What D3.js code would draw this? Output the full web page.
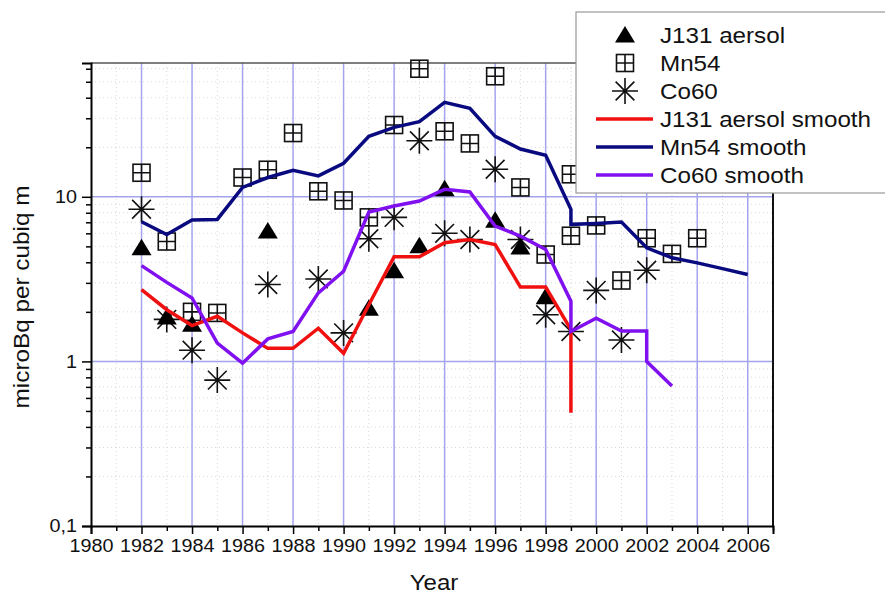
<!DOCTYPE html>
<html><head><meta charset="utf-8">
<script src="https://cdn.jsdelivr.net/npm/d3@7"></script>
<style>html,body{margin:0;padding:0;background:#fff;}svg{display:block;font-family:"Liberation Sans",Arial,sans-serif;}</style>
</head><body>
<svg id="chart" width="885" height="594"></svg>
<script>
// ---- data ----
const j131Years = [1982,1983,1984,1987,1991,1992,1993,1994,1996,1997,1998];
const j131Vals  = [4.9,1.86,1.68,6.2,2.1,3.55,5.05,11.2,7.2,4.95,2.47];

const mn54Years = [1982,1983,1984,1985,1986,1987,1988,1989,1990,1991,1992,1993,1994,1995,1996,1997,1998,1999,1999,2000,2001,2002,2003,2004];
const mn54Vals  = [14.0,5.35,2.0,1.97,13.1,14.6,24.4,10.8,9.5,7.5,27.3,60,25.0,21.1,54,11.4,4.46,13.7,5.8,6.7,3.1,5.6,4.5,5.6];

const co60Years = [1982,1983,1984,1985,1987,1989,1990,1991,1992,1993,1994,1995,1996,1997,1998,1999,2000,2001,2002];
const co60Vals  = [8.4,1.8,1.17,0.77,2.93,3.17,1.49,5.56,7.5,21.9,6.0,5.5,14.7,5.5,1.92,1.52,2.7,1.35,3.58];

const j131SmYears = [1982,1983,1984,1985,1986,1987,1988,1989,1990,1991,1992,1993,1994,1995,1996,1997,1998,1999,1999];
const j131SmVals  = [2.73,2.06,1.65,1.88,1.49,1.2,1.2,1.59,1.12,2.21,4.32,4.32,5.26,5.51,5.13,2.83,2.83,1.56,0.487];

const mn54SmYears = [1982,1983,1984,1985,1986,1987,1988,1989,1990,1991,1992,1993,1994,1995,1996,1997,1998,1999,1999,2000,2001,2002,2003,2004,2005,2006];
const mn54SmVals  = [7.06,5.9,7.22,7.29,11.4,13.1,14.5,13.4,16.0,23.3,26.4,28.6,37.5,34.5,23.3,19.5,17.9,8.39,6.8,6.89,7.02,4.9,4.26,3.97,3.66,3.37];

const co60SmYears = [1982,1983,1984,1985,1986,1987,1988,1989,1990,1991,1992,1993,1994,1995,1996,1997,1998,1999,1999,2000,2001,2002,2002,2003];
const co60SmVals  = [3.82,3.02,2.43,1.29,0.975,1.37,1.52,2.61,3.53,8.08,8.79,9.43,11.1,10.7,6.64,5.77,4.79,2.32,1.52,1.83,1.53,1.53,1.0,0.71];

const xTickYears = [1980,1982,1984,1986,1988,1990,1992,1994,1996,1998,2000,2002,2004,2006];
const yTickVals = [0.1,1,10];
const yTickLabels = ["0,1","1","10"];
const legendLabels = ["J131 aersol","Mn54","Co60","J131 aersol smooth","Mn54 smooth","Co60 smooth"];
const smoothColors = ["#f01010","#0a0a80","#8010f0"];

// ---- layout ----
const L = 91, R = 773, T = 63, B = 526;
const svg = d3.select("#chart");
const x = d3.scaleLinear().domain([1980, 2007]).range([L, R]);
const y = d3.scaleLog().domain([0.1, 65]).range([B, T]);

// minor dotted grid
const minorYears = d3.range(1981, 2007, 2);
const minorY = [];
[0.1,1,10].forEach(d => { for (let k = 2; k <= 9; k++) { const v = d*k; if (v < 65) minorY.push(v); } });
const g = svg.append("g");
g.selectAll(".mx").data(minorYears).join("line")
  .attr("x1", d => x(d)).attr("x2", d => x(d)).attr("y1", T).attr("y2", B)
  .attr("stroke", "#d8d8d8").attr("stroke-width", 1).attr("stroke-dasharray", "1,3");
g.selectAll(".my").data(minorY).join("line")
  .attr("x1", L).attr("x2", R).attr("y1", d => y(d)).attr("y2", d => y(d))
  .attr("stroke", "#d8d8d8").attr("stroke-width", 1).attr("stroke-dasharray", "1,3");
// major grid
g.selectAll(".gx").data(xTickYears.filter(d => d > 1980)).join("line")
  .attr("x1", d => x(d)).attr("x2", d => x(d)).attr("y1", T).attr("y2", B)
  .attr("stroke", "#a4a4ee").attr("stroke-width", 1.5);
g.selectAll(".gy").data([1,10]).join("line")
  .attr("x1", L).attr("x2", R).attr("y1", d => y(d)).attr("y2", d => y(d))
  .attr("stroke", "#a4a4ee").attr("stroke-width", 1.5);

// frame top/right
svg.append("line").attr("x1", L).attr("x2", R).attr("y1", T).attr("y2", T).attr("stroke", "#555").attr("stroke-width", 1.5);
svg.append("line").attr("x1", R).attr("x2", R).attr("y1", T).attr("y2", B).attr("stroke", "#111").attr("stroke-width", 2);

// ---- markers ----
const mk = svg.append("g");
function tri(g2, cx, cy) {
  g2.append("path").attr("d", `M${cx},${cy-9} L${cx+10},${cy+7.5} L${cx-10},${cy+7.5} Z`).attr("fill", "#000");
}
function sq(g2, cx, cy) {
  const h = 8.5;
  g2.append("rect").attr("x", cx-h).attr("y", cy-h).attr("width", 2*h).attr("height", 2*h)
    .attr("fill", "none").attr("stroke", "#111").attr("stroke-width", 1.6);
  g2.append("path").attr("d", `M${cx-h},${cy} H${cx+h} M${cx},${cy-h} V${cy+h}`)
    .attr("stroke", "#111").attr("stroke-width", 1.6);
}
function ast(g2, cx, cy) {
  const r = 13, d = r*0.72;
  g2.append("path").attr("d", `M${cx-r},${cy} H${cx+r} M${cx},${cy-r} V${cy+r} M${cx-d},${cy-d} L${cx+d},${cy+d} M${cx-d},${cy+d} L${cx+d},${cy-d}`)
    .attr("stroke", "#111").attr("stroke-width", 1.6).attr("fill", "none");
}
mn54Years.forEach((yr, i) => sq(mk, x(yr), y(mn54Vals[i])));
co60Years.forEach((yr, i) => ast(mk, x(yr), y(co60Vals[i])));
j131Years.forEach((yr, i) => tri(mk, x(yr), y(j131Vals[i])));

// ---- smooth lines ----
const line = d3.line().x(d => x(d[0])).y(d => y(d[1]));
[[j131SmYears, j131SmVals], [mn54SmYears, mn54SmVals], [co60SmYears, co60SmVals]].forEach((s, k) => {
  svg.append("path").datum(s[0].map((yr, i) => [yr, s[1][i]]))
    .attr("d", line).attr("fill", "none").attr("stroke", smoothColors[k])
    .attr("stroke-width", 3.5).attr("stroke-linejoin", "miter");
});

// ---- axes ----
const xAxis = d3.axisBottom(x).tickValues(xTickYears).tickFormat(d3.format("d")).tickSize(8).tickPadding(5);
const xa = svg.append("g").attr("transform", `translate(0,${B})`).call(xAxis);
xa.select(".domain").attr("stroke", "#000").attr("stroke-width", 2);
xa.selectAll(".tick line").attr("stroke", "#000").attr("stroke-width", 1.5);
xa.selectAll(".tick text").attr("font-size", 18.5).attr("fill", "#111")
  .attr("font-family", "Liberation Sans, Arial, sans-serif").attr("transform", "scale(1.07,1)");
const xMinor = d3.axisBottom(x).tickValues(d3.range(1981, 2008, 2)).tickSize(5).tickFormat("");
const xm = svg.append("g").attr("transform", `translate(0,${B})`).call(xMinor);
xm.select(".domain").remove();
xm.selectAll(".tick line").attr("stroke", "#000").attr("stroke-width", 1.5);

const yAxis = d3.axisLeft(y).tickValues(yTickVals).tickFormat((d, i) => yTickLabels[i]).tickSize(9).tickPadding(4);
const ya = svg.append("g").attr("transform", `translate(${L},0)`).call(yAxis);
ya.select(".domain").attr("stroke", "#000").attr("stroke-width", 2);
ya.selectAll(".tick line").attr("stroke", "#000").attr("stroke-width", 1.5);
ya.selectAll(".tick text").attr("font-size", 18.5).attr("fill", "#111")
  .attr("font-family", "Liberation Sans, Arial, sans-serif").attr("transform", "scale(1.07,1)");
const yMinor = d3.axisLeft(y).tickValues(minorY).tickSize(5).tickFormat("");
const ym = svg.append("g").attr("transform", `translate(${L},0)`).call(yMinor);
ym.select(".domain").remove();
ym.selectAll(".tick line").attr("stroke", "#000").attr("stroke-width", 1.5);

// axis titles
svg.append("text").attr("transform", "translate(434,590) scale(1.12,1)")
  .attr("text-anchor", "middle").attr("font-size", 21.5).attr("fill", "#111").text("Year");
svg.append("text").attr("transform", "translate(29,297) rotate(-90) scale(1.13,1)")
  .attr("text-anchor", "middle").attr("font-size", 21.5).attr("fill", "#111").text("microBq per cubiq m");

// ---- legend ----
const lg = svg.append("g");
lg.append("rect").attr("x", 576).attr("y", 12).attr("width", 320).attr("height", 181)
  .attr("fill", "#fff").attr("stroke", "#999").attr("stroke-width", 1.2);
const rowY = i => 35 + 28*i;
tri(lg, 625, rowY(0));
sq(lg, 625, rowY(1));
ast(lg, 625, rowY(2));
[3,4,5].forEach((r, k) => {
  lg.append("line").attr("x1", 596).attr("x2", 653).attr("y1", rowY(r)).attr("y2", rowY(r))
    .attr("stroke", smoothColors[k]).attr("stroke-width", 3.5);
});
legendLabels.forEach((t, i) => {
  lg.append("text").attr("transform", `translate(660,${rowY(i)+8}) scale(1.1,1)`)
    .attr("font-size", 22).attr("fill", "#111").text(t);
});
</script>
</body></html>
